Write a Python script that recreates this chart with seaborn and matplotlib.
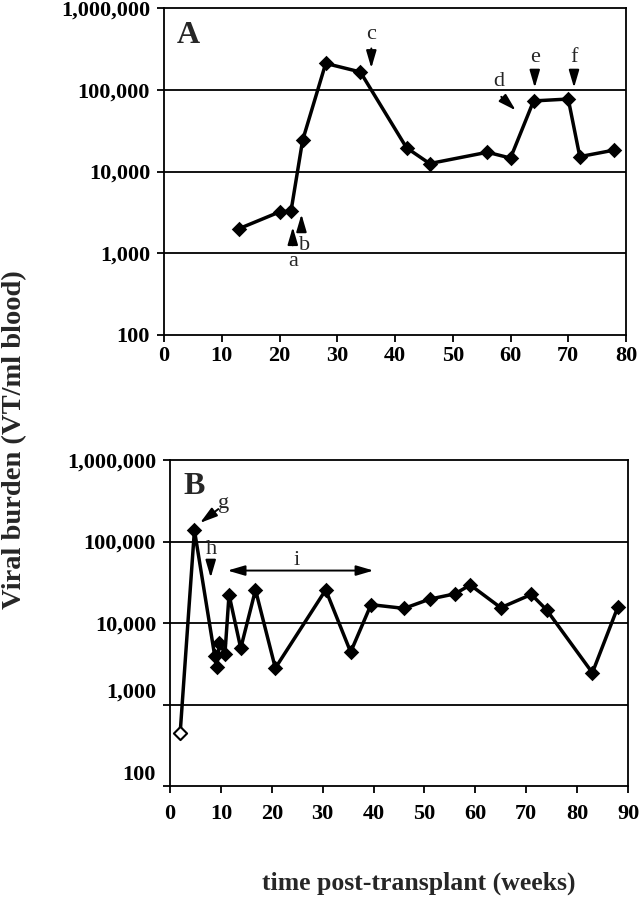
import numpy as np
import pandas as pd
import matplotlib
matplotlib.use("Agg")
import matplotlib.pyplot as plt
import seaborn as sns
from matplotlib.ticker import FixedLocator, NullLocator
from matplotlib.transforms import ScaledTranslation

# ---------------- data ----------------
a_weeks = [13, 20, 22, 24, 28, 34, 42, 46, 56, 60, 64, 70, 72, 78]
a_burden = [2000, 3200, 3300, 24000, 210000, 165000, 19500, 12500,
            17200, 14600, 73000, 77000, 15200, 18300]

b_weeks = [2, 4.8, 8.8, 9.2, 9.7, 10.8, 11.6, 13.9, 16.8, 20.7, 30.6, 35.5,
           39.5, 46, 51, 56, 59, 65, 71, 74, 83, 88]
b_burden = [450, 138000, 3900, 2850, 5700, 4200, 22300, 4900, 25500, 2800,
            25500, 4400, 16800, 15100, 19600, 22800, 29300, 15400, 22400,
            14500, 2450, 15700]
b_open = [True] + [False] * 21

y_ticks = [100, 1000, 10000, 100000, 1000000]
y_tick_labels = ["100", "1,000", "10,000", "100,000", "1,000,000"]
a_xticks = list(range(0, 81, 10))
b_xticks = list(range(0, 91, 10))

dfA = pd.DataFrame({"week": a_weeks, "burden": a_burden})
dfB = pd.DataFrame({"week": b_weeks, "burden": b_burden, "open": b_open})

# ---------------- style ----------------
sns.set_style("white")
plt.rcParams["font.family"] = ["Liberation Serif", "DejaVu Serif"]

W, H = 641, 899
fig = plt.figure(figsize=(W / 100, H / 100), dpi=100)
axA = fig.add_axes([164 / W, 1 - 335 / H, 462 / W, 327 / H])
axB = fig.add_axes([170 / W, 1 - 786 / H, 458 / W, 326 / H])

LW = 1.3


def style(ax, xmax, xticks, xpad):
    ax.set_yscale("log")
    ax.set_ylim(100, 1e6)
    ax.set_xlim(0, xmax)
    ax.yaxis.set_major_locator(FixedLocator(y_ticks))
    ax.yaxis.set_minor_locator(NullLocator())
    ax.set_yticklabels(y_tick_labels)
    ax.set_xticks(xticks)
    ax.set_xticklabels([str(t) for t in xticks])
    for y in [1e3, 1e4, 1e5]:
        ax.axhline(y, color="black", lw=LW, zorder=1)
    for s in ax.spines.values():
        s.set_visible(True)
        s.set_color("black")
        s.set_linewidth(LW)
    ax.tick_params(axis="both", direction="out", length=5, width=LW,
                   colors="black", labelsize=16, left=True, bottom=True)
    ax.tick_params(axis="x", pad=xpad)
    ax.tick_params(axis="y", pad=5)
    for lab in ax.get_xticklabels() + ax.get_yticklabels():
        lab.set_fontweight("bold")
    ax.set_xlabel("")
    ax.set_ylabel("")
    ax.grid(False)


# ---------------- panel A ----------------
sns.lineplot(data=dfA, x="week", y="burden", ax=axA, color="black",
             lw=2.5, estimator=None, sort=False, zorder=3)
sns.scatterplot(data=dfA, x="week", y="burden", ax=axA, color="black",
                marker="D", s=62, linewidth=0, zorder=4)
style(axA, 80, a_xticks, 3)

axA.text(4.2, 4.6e5, "A", fontsize=23, fontweight="bold", ha="center",
         va="center")

arrow_kw = dict(arrowstyle="-|>,head_length=0.75,head_width=0.22",
                color="black", lw=1.4, shrinkA=0, shrinkB=0,
                mutation_scale=14)
ann_fs = 16

# a, b
axA.annotate("", xy=(22.3, 2090), xytext=(22.3, 1250), arrowprops=arrow_kw)
axA.text(22.3, 800, "a", fontsize=ann_fs, ha="center", va="center")
axA.annotate("", xy=(23.8, 3000), xytext=(23.8, 1900), arrowprops=arrow_kw)
axA.text(24.4, 1250, "b", fontsize=ann_fs, ha="center", va="center")
# c
axA.annotate("", xy=(35.9, 184000), xytext=(35.9, 320000), arrowprops=arrow_kw)
axA.text(35.9, 470000, "c", fontsize=ann_fs, ha="center", va="center")
# d
axA.annotate("", xy=(60.9, 56000), xytext=(58.4, 82000), arrowprops=arrow_kw)
axA.text(57.9, 125000, "d", fontsize=ann_fs, ha="center", va="center")
# e, f
axA.annotate("", xy=(64.2, 106000), xytext=(64.2, 166000), arrowprops=arrow_kw)
axA.text(64.2, 248000, "e", fontsize=ann_fs, ha="center", va="center")
axA.annotate("", xy=(71.0, 106000), xytext=(71.0, 166000), arrowprops=arrow_kw)
axA.text(71.0, 248000, "f", fontsize=ann_fs, ha="center", va="center")

# ---------------- panel B ----------------
sns.lineplot(data=dfB, x="week", y="burden", ax=axB, color="black",
             lw=2.5, estimator=None, sort=False, zorder=3)
sns.scatterplot(data=dfB[~dfB["open"]], x="week", y="burden", ax=axB,
                color="black", marker="D", s=62, linewidth=0, zorder=4)
sns.scatterplot(data=dfB[dfB["open"]], x="week", y="burden", ax=axB,
                marker="D", s=45, facecolor="white", edgecolor="black",
                linewidth=1.5, zorder=5)
style(axB, 90, b_xticks, 8)

axB.text(4.8, 4.7e5, "B", fontsize=23, fontweight="bold", ha="center",
         va="center")
# g
axB.annotate("", xy=(5.9, 169000), xytext=(9.5, 250000), arrowprops=arrow_kw)
axB.text(10.6, 290000, "g", fontsize=ann_fs, ha="center", va="center")
# h
axB.annotate("", xy=(8.0, 36000), xytext=(8.0, 52000), arrowprops=arrow_kw)
axB.text(8.2, 80000, "h", fontsize=ann_fs, ha="center", va="center")
# i
axB.annotate("", xy=(11.3, 44000), xytext=(40.0, 44000),
             arrowprops=dict(arrowstyle="<|-|>,head_length=0.75,head_width=0.22",
                             color="black", lw=1.4, shrinkA=0, shrinkB=0,
                             mutation_scale=14))
axB.text(24.9, 58000, "i", fontsize=ann_fs, ha="center", va="center")

# lower y labels of panel B sit a bit above their gridlines in the original
for lab in axB.get_yticklabels():
    if lab.get_text() in ("1,000", "100"):
        lab.set_transform(lab.get_transform() +
                          ScaledTranslation(0, 14 / 100, fig.dpi_scale_trans))

# ---------------- shared labels ----------------
fig.text(15 / W, 1 - 440 / H, "Viral burden (VT/ml blood)", rotation=90,
         ha="center", va="center", fontsize=20.5, fontweight="bold")
fig.text(419 / W, 1 - 883 / H, "time post-transplant (weeks)", ha="center",
         va="center", fontsize=18.5, fontweight="bold")

fig.savefig("out.png", dpi=100)
